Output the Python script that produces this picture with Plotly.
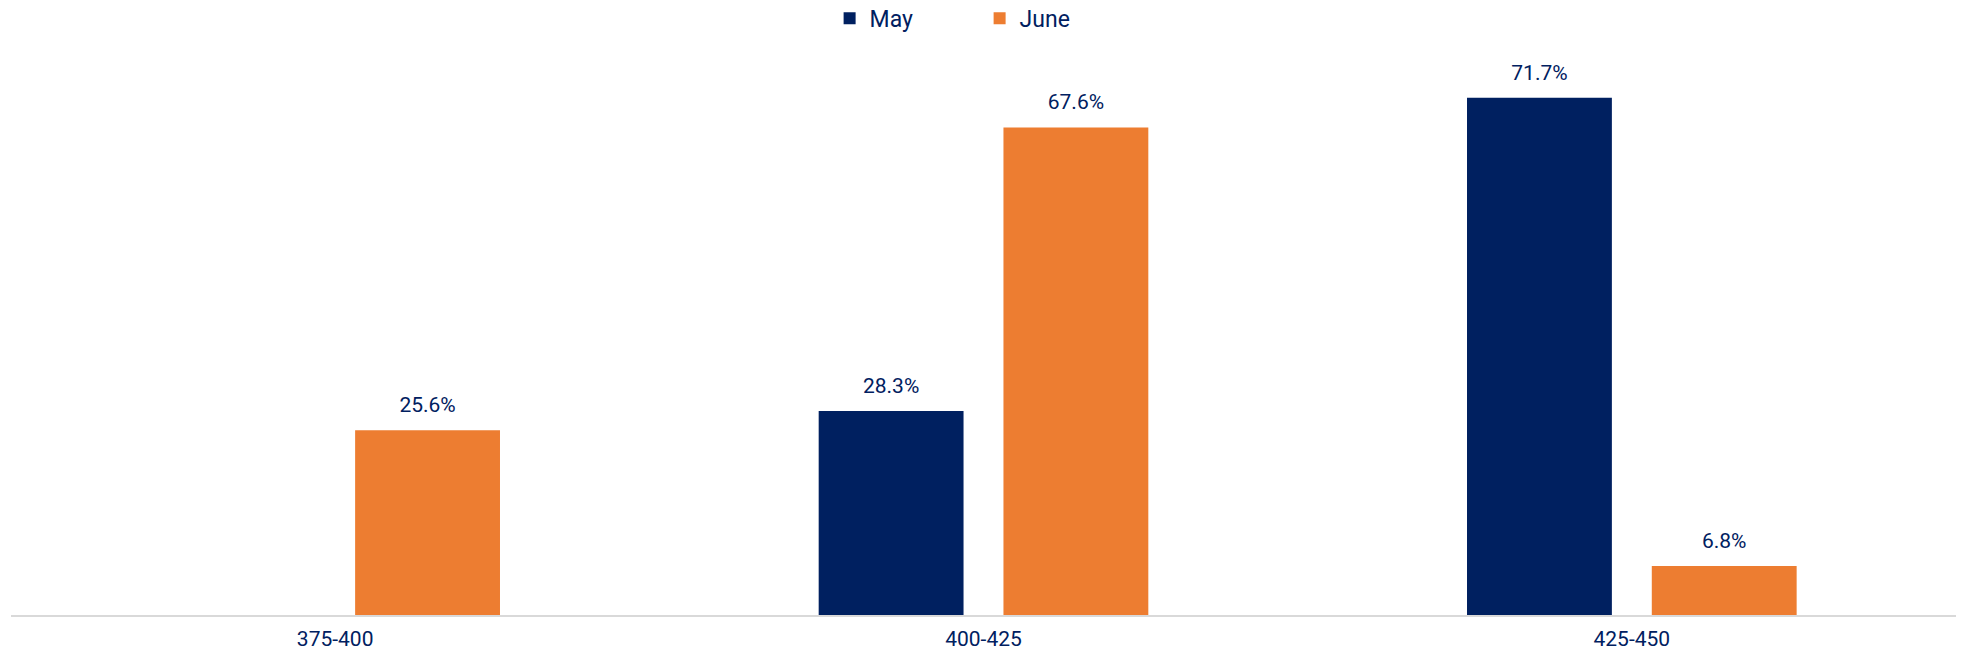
import plotly.graph_objects as go

categories = ["375-400", "400-425", "425-450"]
may_values = [None, 28.3, 71.7]
june_values = [25.6, 67.6, 6.8]
series_names = ["May", "June"]

NAVY = "#002060"
ORANGE = "#ED7D31"
FONT = "Roboto"

label_tpl = "<span style='font-size:21px'>%{y:.1f}%</span><br> "

fig = go.Figure()
fig.add_trace(go.Bar(
    x=categories, y=may_values, name=series_names[0],
    marker=dict(color=NAVY, line=dict(width=0)),
    texttemplate=label_tpl, textposition="outside", cliponaxis=False,
    textfont=dict(family=FONT, size=10, color=NAVY),
))
fig.add_trace(go.Bar(
    x=categories, y=june_values, name=series_names[1],
    marker=dict(color=ORANGE, line=dict(width=0)),
    texttemplate=label_tpl, textposition="outside", cliponaxis=False,
    textfont=dict(family=FONT, size=10, color=NAVY),
))

fig.update_layout(
    width=1962, height=655,
    margin=dict(l=11, r=6, t=38, b=40, autoexpand=False),
    paper_bgcolor="white", plot_bgcolor="white",
    barmode="group", bargap=0.43, bargroupgap=0.216,
    font=dict(family=FONT, color=NAVY, size=21),
    showlegend=True,
    legend=dict(
        orientation="h", x=0.498, xanchor="center", y=1.034, yanchor="middle",
        font=dict(family=FONT, size=23, color=NAVY),
        entrywidth=105, entrywidthmode="pixels",
        bgcolor="rgba(0,0,0,0)", traceorder="normal",
    ),
)
fig.update_xaxes(
    showline=True, linecolor="#D9D9D9", linewidth=2,
    showgrid=False, ticks="", ticklabelstandoff=4,
    tickfont=dict(family=FONT, size=21, color=NAVY),
    zeroline=False,
)
fig.update_yaxes(
    range=[0, 80], visible=False, showgrid=False, zeroline=False,
)

# remove the default page margin so the 1962x655 figure fills the window exactly
fig.write_html(
    "out.html",
    config={"displayModeBar": False},
    post_script="document.body.style.margin='0';document.body.style.overflow='hidden';",
)
